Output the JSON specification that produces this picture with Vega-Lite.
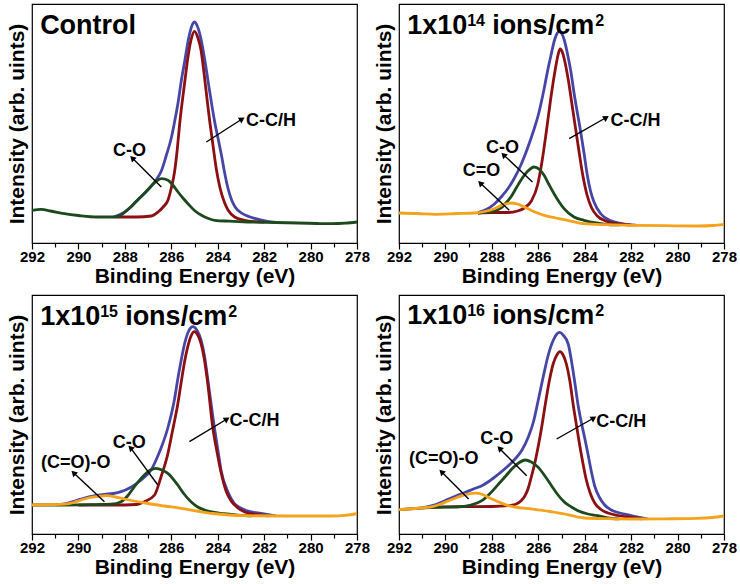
{
"$schema":"https://vega.github.io/schema/vega-lite/v6.json",
"padding":{"left":5,"top":3,"right":0,"bottom":0},
"data":{"values":[
{"p":"a","k":"env","e":288.5,"i":26},{"p":"a","k":"env","e":288.0,"i":31},{"p":"a","k":"env","e":287.7,"i":37},{"p":"a","k":"env","e":287.43,"i":43.5},{"p":"a","k":"env","e":287.14,"i":50},{"p":"a","k":"env","e":286.86,"i":57},{"p":"a","k":"env","e":286.64,"i":63.5},{"p":"a","k":"env","e":286.43,"i":72},{"p":"a","k":"env","e":286.21,"i":88},{"p":"a","k":"env","e":286.0,"i":105},{"p":"a","k":"env","e":285.86,"i":121},{"p":"a","k":"env","e":285.71,"i":140},{"p":"a","k":"env","e":285.55,"i":165},{"p":"a","k":"env","e":285.42,"i":182},{"p":"a","k":"env","e":285.25,"i":205},{"p":"a","k":"env","e":285.1,"i":218},{"p":"a","k":"env","e":285.0,"i":221},{"p":"a","k":"env","e":284.88,"i":217},{"p":"a","k":"env","e":284.72,"i":204},{"p":"a","k":"env","e":284.55,"i":182},{"p":"a","k":"env","e":284.35,"i":152},{"p":"a","k":"env","e":284.13,"i":121},{"p":"a","k":"env","e":283.98,"i":104},{"p":"a","k":"env","e":283.84,"i":88},{"p":"a","k":"env","e":283.7,"i":70},{"p":"a","k":"env","e":283.55,"i":54},{"p":"a","k":"env","e":283.4,"i":43},{"p":"a","k":"env","e":283.25,"i":36},{"p":"a","k":"env","e":282.98,"i":30},{"p":"a","k":"env","e":282.6,"i":26},{"p":"a","k":"env","e":282.12,"i":23},{"p":"a","k":"env","e":281.5,"i":20.6},
{"p":"a","k":"cch","e":288.4,"i":26},{"p":"a","k":"cch","e":287.5,"i":26},{"p":"a","k":"cch","e":286.86,"i":27},{"p":"a","k":"cch","e":286.57,"i":31},{"p":"a","k":"cch","e":286.35,"i":36},{"p":"a","k":"cch","e":286.14,"i":43},{"p":"a","k":"cch","e":286.0,"i":55},{"p":"a","k":"cch","e":285.86,"i":71},{"p":"a","k":"cch","e":285.75,"i":92},{"p":"a","k":"cch","e":285.63,"i":121},{"p":"a","k":"cch","e":285.42,"i":161},{"p":"a","k":"cch","e":285.3,"i":183},{"p":"a","k":"cch","e":285.15,"i":203},{"p":"a","k":"cch","e":285.0,"i":211.7},{"p":"a","k":"cch","e":284.85,"i":205},{"p":"a","k":"cch","e":284.72,"i":193},{"p":"a","k":"cch","e":284.6,"i":172},{"p":"a","k":"cch","e":284.47,"i":146},{"p":"a","k":"cch","e":284.34,"i":121},{"p":"a","k":"cch","e":284.2,"i":97},{"p":"a","k":"cch","e":284.06,"i":74},{"p":"a","k":"cch","e":283.9,"i":55},{"p":"a","k":"cch","e":283.7,"i":40},{"p":"a","k":"cch","e":283.55,"i":32.7},{"p":"a","k":"cch","e":283.27,"i":26},{"p":"a","k":"cch","e":282.84,"i":22.7},{"p":"a","k":"cch","e":282.4,"i":21.3},{"p":"a","k":"cch","e":282.0,"i":20.8},
{"p":"a","k":"co","e":292,"i":32.7},{"p":"a","k":"co","e":291.6,"i":33.7},{"p":"a","k":"co","e":291.2,"i":32},{"p":"a","k":"co","e":290.6,"i":29.3},{"p":"a","k":"co","e":290.0,"i":27.5},{"p":"a","k":"co","e":289.2,"i":26},{"p":"a","k":"co","e":288.44,"i":26},{"p":"a","k":"co","e":288.2,"i":27.5},{"p":"a","k":"co","e":288.0,"i":31},{"p":"a","k":"co","e":287.7,"i":37},{"p":"a","k":"co","e":287.43,"i":43.5},{"p":"a","k":"co","e":287.14,"i":50},{"p":"a","k":"co","e":286.86,"i":57},{"p":"a","k":"co","e":286.64,"i":62},{"p":"a","k":"co","e":286.43,"i":64.3},{"p":"a","k":"co","e":286.14,"i":62.7},{"p":"a","k":"co","e":285.92,"i":57.5},{"p":"a","k":"co","e":285.71,"i":51},{"p":"a","k":"co","e":285.5,"i":45},{"p":"a","k":"co","e":285.28,"i":39.3},{"p":"a","k":"co","e":285.0,"i":32.5},{"p":"a","k":"co","e":284.7,"i":27.7},{"p":"a","k":"co","e":284.4,"i":24.5},{"p":"a","k":"co","e":284.13,"i":22.7},{"p":"a","k":"co","e":283.5,"i":21.8},{"p":"a","k":"co","e":282.69,"i":21},{"p":"a","k":"co","e":281.5,"i":20.5},{"p":"a","k":"co","e":280.53,"i":20},{"p":"a","k":"co","e":279.7,"i":19.5},{"p":"a","k":"co","e":279.1,"i":19.3},{"p":"a","k":"co","e":278.5,"i":19.8},{"p":"a","k":"co","e":278,"i":21},
{"p":"b","k":"coo","e":292,"i":30},{"p":"b","k":"coo","e":291.2,"i":29.5},{"p":"b","k":"coo","e":290.47,"i":28.7},{"p":"b","k":"coo","e":289.5,"i":29.5},{"p":"b","k":"coo","e":288.75,"i":30},{"p":"b","k":"coo","e":288.3,"i":31.5},{"p":"b","k":"coo","e":287.89,"i":34.3},{"p":"b","k":"coo","e":287.5,"i":38.5},{"p":"b","k":"coo","e":287.18,"i":40},{"p":"b","k":"coo","e":286.9,"i":39},{"p":"b","k":"coo","e":286.6,"i":36},{"p":"b","k":"coo","e":286.2,"i":31.5},{"p":"b","k":"coo","e":285.75,"i":27.7},{"p":"b","k":"coo","e":285.25,"i":25},{"p":"b","k":"coo","e":284.75,"i":22.7},{"p":"b","k":"coo","e":284.03,"i":19.3},{"p":"b","k":"coo","e":283.0,"i":18.3},{"p":"b","k":"coo","e":281.88,"i":17.7},{"p":"b","k":"coo","e":280.5,"i":17.3},{"p":"b","k":"coo","e":279.03,"i":17},{"p":"b","k":"coo","e":278.5,"i":17.5},{"p":"b","k":"coo","e":278,"i":18.7},
{"p":"b","k":"co","e":288.6,"i":30},{"p":"b","k":"co","e":288.0,"i":31.5},{"p":"b","k":"co","e":287.6,"i":35},{"p":"b","k":"co","e":287.4,"i":40},{"p":"b","k":"co","e":287.18,"i":46},{"p":"b","k":"co","e":286.95,"i":55},{"p":"b","k":"co","e":286.75,"i":62.7},{"p":"b","k":"co","e":286.46,"i":71.7},{"p":"b","k":"co","e":286.18,"i":76},{"p":"b","k":"co","e":285.95,"i":73.5},{"p":"b","k":"co","e":285.75,"i":67.7},{"p":"b","k":"co","e":285.55,"i":59},{"p":"b","k":"co","e":285.32,"i":49.3},{"p":"b","k":"co","e":285.1,"i":41},{"p":"b","k":"co","e":284.89,"i":34.3},{"p":"b","k":"co","e":284.46,"i":26},{"p":"b","k":"co","e":284.03,"i":22.7},{"p":"b","k":"co","e":283.5,"i":20},{"p":"b","k":"co","e":283.0,"i":18.5},{"p":"b","k":"co","e":282.5,"i":18.1},
{"p":"b","k":"cch","e":288.6,"i":30},{"p":"b","k":"cch","e":288.0,"i":30.5},{"p":"b","k":"cch","e":287.32,"i":30.5},{"p":"b","k":"cch","e":286.89,"i":32},{"p":"b","k":"cch","e":286.6,"i":35},{"p":"b","k":"cch","e":286.3,"i":42},{"p":"b","k":"cch","e":286.03,"i":58},{"p":"b","k":"cch","e":285.85,"i":80},{"p":"b","k":"cch","e":285.65,"i":112},{"p":"b","k":"cch","e":285.46,"i":145},{"p":"b","k":"cch","e":285.25,"i":176},{"p":"b","k":"cch","e":285.15,"i":188},{"p":"b","k":"cch","e":285.06,"i":194},{"p":"b","k":"cch","e":284.95,"i":190},{"p":"b","k":"cch","e":284.88,"i":184},{"p":"b","k":"cch","e":284.7,"i":162},{"p":"b","k":"cch","e":284.5,"i":131},{"p":"b","k":"cch","e":284.3,"i":100},{"p":"b","k":"cch","e":284.1,"i":70},{"p":"b","k":"cch","e":283.9,"i":48},{"p":"b","k":"cch","e":283.7,"i":35},{"p":"b","k":"cch","e":283.46,"i":27},{"p":"b","k":"cch","e":283.03,"i":21.5},{"p":"b","k":"cch","e":282.5,"i":19},{"p":"b","k":"cch","e":282.0,"i":17.9},
{"p":"b","k":"env","e":288.6,"i":30.5},{"p":"b","k":"env","e":288.2,"i":34},{"p":"b","k":"env","e":287.89,"i":39},{"p":"b","k":"env","e":287.6,"i":46},{"p":"b","k":"env","e":287.32,"i":54},{"p":"b","k":"env","e":287.05,"i":64},{"p":"b","k":"env","e":286.75,"i":78},{"p":"b","k":"env","e":286.46,"i":95},{"p":"b","k":"env","e":286.18,"i":114},{"p":"b","k":"env","e":286.0,"i":128},{"p":"b","k":"env","e":285.75,"i":154},{"p":"b","k":"env","e":285.6,"i":172},{"p":"b","k":"env","e":285.46,"i":187},{"p":"b","k":"env","e":285.3,"i":203},{"p":"b","k":"env","e":285.18,"i":210},{"p":"b","k":"env","e":285.1,"i":211.7},{"p":"b","k":"env","e":285.0,"i":210},{"p":"b","k":"env","e":284.88,"i":203},{"p":"b","k":"env","e":284.75,"i":190},{"p":"b","k":"env","e":284.6,"i":172},{"p":"b","k":"env","e":284.46,"i":150},{"p":"b","k":"env","e":284.3,"i":128},{"p":"b","k":"env","e":284.18,"i":112},{"p":"b","k":"env","e":284.03,"i":90},{"p":"b","k":"env","e":283.89,"i":68},{"p":"b","k":"env","e":283.75,"i":52},{"p":"b","k":"env","e":283.6,"i":41},{"p":"b","k":"env","e":283.3,"i":29},{"p":"b","k":"env","e":282.9,"i":22.5},{"p":"b","k":"env","e":282.4,"i":19.5},{"p":"b","k":"env","e":281.8,"i":17.8},
{"p":"c","k":"coo","e":292,"i":29},{"p":"c","k":"coo","e":291.2,"i":29.3},{"p":"c","k":"coo","e":290.6,"i":29.8},{"p":"c","k":"coo","e":290.2,"i":31.5},{"p":"c","k":"coo","e":289.89,"i":34},{"p":"c","k":"coo","e":289.5,"i":36.5},{"p":"c","k":"coo","e":289.17,"i":37.5},{"p":"c","k":"coo","e":288.8,"i":38.3},{"p":"c","k":"coo","e":288.4,"i":37},{"p":"c","k":"coo","e":288.02,"i":35},{"p":"c","k":"coo","e":287.6,"i":33},{"p":"c","k":"coo","e":287.01,"i":30.5},{"p":"c","k":"coo","e":286.3,"i":28},{"p":"c","k":"coo","e":285.58,"i":25.7},{"p":"c","k":"coo","e":284.9,"i":23},{"p":"c","k":"coo","e":284.2,"i":20.5},{"p":"c","k":"coo","e":283.5,"i":19},{"p":"c","k":"coo","e":282.84,"i":18.3},{"p":"c","k":"coo","e":281.0,"i":18},{"p":"c","k":"coo","e":279.11,"i":18},{"p":"c","k":"coo","e":278.5,"i":18.7},{"p":"c","k":"coo","e":278,"i":20.5},
{"p":"c","k":"co","e":292,"i":29},{"p":"c","k":"co","e":290.75,"i":29},{"p":"c","k":"co","e":289.5,"i":29.3},{"p":"c","k":"co","e":288.6,"i":29.8},{"p":"c","k":"co","e":288.16,"i":32.3},{"p":"c","k":"co","e":287.85,"i":39},{"p":"c","k":"co","e":287.59,"i":47.3},{"p":"c","k":"co","e":287.16,"i":59},{"p":"c","k":"co","e":286.9,"i":64},{"p":"c","k":"co","e":286.66,"i":65.7},{"p":"c","k":"co","e":286.4,"i":64},{"p":"c","k":"co","e":286.15,"i":60.7},{"p":"c","k":"co","e":285.72,"i":49},{"p":"c","k":"co","e":285.45,"i":40},{"p":"c","k":"co","e":285.15,"i":32.3},{"p":"c","k":"co","e":284.86,"i":27},{"p":"c","k":"co","e":284.57,"i":24},{"p":"c","k":"co","e":284.14,"i":21.5},{"p":"c","k":"co","e":283.85,"i":20.7},{"p":"c","k":"co","e":283.0,"i":18.7},{"p":"c","k":"co","e":282.5,"i":18.2},
{"p":"c","k":"cch","e":290.0,"i":29},{"p":"c","k":"cch","e":288.5,"i":29},{"p":"c","k":"cch","e":287.5,"i":29.5},{"p":"c","k":"cch","e":287.16,"i":32.3},{"p":"c","k":"cch","e":286.72,"i":39},{"p":"c","k":"cch","e":286.44,"i":57.3},{"p":"c","k":"cch","e":286.15,"i":80},{"p":"c","k":"cch","e":285.94,"i":104},{"p":"c","k":"cch","e":285.72,"i":130},{"p":"c","k":"cch","e":285.58,"i":150.7},{"p":"c","k":"cch","e":285.43,"i":172},{"p":"c","k":"cch","e":285.29,"i":187.3},{"p":"c","k":"cch","e":285.15,"i":198},{"p":"c","k":"cch","e":285.0,"i":202.3},{"p":"c","k":"cch","e":284.86,"i":199},{"p":"c","k":"cch","e":284.72,"i":190.7},{"p":"c","k":"cch","e":284.57,"i":174},{"p":"c","k":"cch","e":284.43,"i":150.7},{"p":"c","k":"cch","e":284.21,"i":106},{"p":"c","k":"cch","e":284.03,"i":82},{"p":"c","k":"cch","e":283.85,"i":61},{"p":"c","k":"cch","e":283.64,"i":43},{"p":"c","k":"cch","e":283.42,"i":33},{"p":"c","k":"cch","e":283.13,"i":26},{"p":"c","k":"cch","e":282.84,"i":22},{"p":"c","k":"cch","e":282.3,"i":19.5},{"p":"c","k":"cch","e":281.8,"i":18.1},
{"p":"c","k":"env","e":291.0,"i":29.3},{"p":"c","k":"env","e":290.6,"i":30},{"p":"c","k":"env","e":290.03,"i":34},{"p":"c","k":"env","e":289.5,"i":37.5},{"p":"c","k":"env","e":288.88,"i":39.7},{"p":"c","k":"env","e":288.5,"i":40.5},{"p":"c","k":"env","e":288.16,"i":42.3},{"p":"c","k":"env","e":287.8,"i":46},{"p":"c","k":"env","e":287.44,"i":51.5},{"p":"c","k":"env","e":287.15,"i":57},{"p":"c","k":"env","e":286.87,"i":64},{"p":"c","k":"env","e":286.58,"i":78},{"p":"c","k":"env","e":286.44,"i":86},{"p":"c","k":"env","e":286.15,"i":106},{"p":"c","k":"env","e":285.86,"i":135},{"p":"c","k":"env","e":285.72,"i":155},{"p":"c","k":"env","e":285.58,"i":173},{"p":"c","k":"env","e":285.43,"i":190},{"p":"c","k":"env","e":285.25,"i":203},{"p":"c","k":"env","e":285.07,"i":207.3},{"p":"c","k":"env","e":284.9,"i":204},{"p":"c","k":"env","e":284.72,"i":194},{"p":"c","k":"env","e":284.57,"i":178},{"p":"c","k":"env","e":284.43,"i":155},{"p":"c","k":"env","e":284.14,"i":106},{"p":"c","k":"env","e":283.98,"i":82},{"p":"c","k":"env","e":283.85,"i":63},{"p":"c","k":"env","e":283.56,"i":42},{"p":"c","k":"env","e":283.3,"i":31},{"p":"c","k":"env","e":282.99,"i":25.7},{"p":"c","k":"env","e":282.6,"i":22.3},{"p":"c","k":"env","e":282.13,"i":20.5},{"p":"c","k":"env","e":281.5,"i":18.1},
{"p":"d","k":"coo","e":292,"i":24.3},{"p":"d","k":"coo","e":291.3,"i":25.5},{"p":"d","k":"coo","e":290.57,"i":27.3},{"p":"d","k":"coo","e":290.2,"i":30},{"p":"d","k":"coo","e":289.86,"i":33.3},{"p":"d","k":"coo","e":289.5,"i":36.5},{"p":"d","k":"coo","e":289.14,"i":39.3},{"p":"d","k":"coo","e":288.71,"i":40.8},{"p":"d","k":"coo","e":288.4,"i":39.5},{"p":"d","k":"coo","e":288.14,"i":36.6},{"p":"d","k":"coo","e":287.8,"i":33},{"p":"d","k":"coo","e":287.43,"i":29.3},{"p":"d","k":"coo","e":287.0,"i":27},{"p":"d","k":"coo","e":286.29,"i":25},{"p":"d","k":"coo","e":285.5,"i":22.5},{"p":"d","k":"coo","e":284.86,"i":20},{"p":"d","k":"coo","e":284.4,"i":17.5},{"p":"d","k":"coo","e":284.0,"i":16},{"p":"d","k":"coo","e":283.0,"i":15.3},{"p":"d","k":"coo","e":282.0,"i":15},{"p":"d","k":"coo","e":280.5,"i":15.2},{"p":"d","k":"coo","e":279.14,"i":15.6},{"p":"d","k":"coo","e":278.5,"i":16.5},{"p":"d","k":"coo","e":278,"i":18},
{"p":"d","k":"co","e":292,"i":24.3},{"p":"d","k":"co","e":291.0,"i":26},{"p":"d","k":"co","e":290.57,"i":26.6},{"p":"d","k":"co","e":289.5,"i":27},{"p":"d","k":"co","e":288.9,"i":29},{"p":"d","k":"co","e":288.43,"i":33.3},{"p":"d","k":"co","e":288.1,"i":40},{"p":"d","k":"co","e":287.71,"i":50},{"p":"d","k":"co","e":287.4,"i":58},{"p":"d","k":"co","e":287.14,"i":65},{"p":"d","k":"co","e":286.85,"i":71},{"p":"d","k":"co","e":286.57,"i":74},{"p":"d","k":"co","e":286.3,"i":72},{"p":"d","k":"co","e":286.0,"i":66.6},{"p":"d","k":"co","e":285.7,"i":57.5},{"p":"d","k":"co","e":285.43,"i":48.3},{"p":"d","k":"co","e":285.15,"i":39},{"p":"d","k":"co","e":284.86,"i":31.6},{"p":"d","k":"co","e":284.57,"i":27},{"p":"d","k":"co","e":284.29,"i":23.3},{"p":"d","k":"co","e":283.86,"i":20},{"p":"d","k":"co","e":283.43,"i":18.3},{"p":"d","k":"co","e":283.0,"i":16},{"p":"d","k":"co","e":282.5,"i":15.2},
{"p":"d","k":"cch","e":290.7,"i":26.6},{"p":"d","k":"cch","e":289.5,"i":27.3},{"p":"d","k":"cch","e":288.0,"i":27.5},{"p":"d","k":"cch","e":287.3,"i":28.3},{"p":"d","k":"cch","e":287.0,"i":29.5},{"p":"d","k":"cch","e":286.75,"i":33},{"p":"d","k":"cch","e":286.57,"i":38.3},{"p":"d","k":"cch","e":286.43,"i":46},{"p":"d","k":"cch","e":286.29,"i":58},{"p":"d","k":"cch","e":286.14,"i":72},{"p":"d","k":"cch","e":286.0,"i":88},{"p":"d","k":"cch","e":285.86,"i":106},{"p":"d","k":"cch","e":285.71,"i":128},{"p":"d","k":"cch","e":285.55,"i":150},{"p":"d","k":"cch","e":285.36,"i":170},{"p":"d","k":"cch","e":285.2,"i":179},{"p":"d","k":"cch","e":285.07,"i":182.3},{"p":"d","k":"cch","e":284.93,"i":179},{"p":"d","k":"cch","e":284.79,"i":170},{"p":"d","k":"cch","e":284.64,"i":153},{"p":"d","k":"cch","e":284.5,"i":130},{"p":"d","k":"cch","e":284.35,"i":108},{"p":"d","k":"cch","e":284.21,"i":88},{"p":"d","k":"cch","e":284.07,"i":70},{"p":"d","k":"cch","e":283.93,"i":54},{"p":"d","k":"cch","e":283.75,"i":40},{"p":"d","k":"cch","e":283.57,"i":31},{"p":"d","k":"cch","e":283.3,"i":24.5},{"p":"d","k":"cch","e":283.0,"i":21},{"p":"d","k":"cch","e":282.57,"i":18.5},{"p":"d","k":"cch","e":282.0,"i":16.5},{"p":"d","k":"cch","e":281.5,"i":15.1},
{"p":"d","k":"env","e":291.0,"i":26},{"p":"d","k":"env","e":290.57,"i":28.3},{"p":"d","k":"env","e":290.2,"i":31.5},{"p":"d","k":"env","e":289.86,"i":35},{"p":"d","k":"env","e":289.5,"i":38.5},{"p":"d","k":"env","e":289.14,"i":41.6},{"p":"d","k":"env","e":288.8,"i":45},{"p":"d","k":"env","e":288.43,"i":48.3},{"p":"d","k":"env","e":288.1,"i":53},{"p":"d","k":"env","e":287.71,"i":60},{"p":"d","k":"env","e":287.35,"i":67},{"p":"d","k":"env","e":287.0,"i":75},{"p":"d","k":"env","e":286.7,"i":84},{"p":"d","k":"env","e":286.43,"i":97},{"p":"d","k":"env","e":286.21,"i":112},{"p":"d","k":"env","e":286.0,"i":134},{"p":"d","k":"env","e":285.78,"i":158},{"p":"d","k":"env","e":285.57,"i":179},{"p":"d","k":"env","e":285.35,"i":194},{"p":"d","k":"env","e":285.2,"i":200},{"p":"d","k":"env","e":285.07,"i":201.6},{"p":"d","k":"env","e":284.93,"i":199},{"p":"d","k":"env","e":284.71,"i":190},{"p":"d","k":"env","e":284.57,"i":173},{"p":"d","k":"env","e":284.43,"i":152},{"p":"d","k":"env","e":284.28,"i":128},{"p":"d","k":"env","e":284.14,"i":111},{"p":"d","k":"env","e":284.0,"i":96},{"p":"d","k":"env","e":283.86,"i":80},{"p":"d","k":"env","e":283.71,"i":62},{"p":"d","k":"env","e":283.57,"i":48},{"p":"d","k":"env","e":283.35,"i":36},{"p":"d","k":"env","e":283.14,"i":29},{"p":"d","k":"env","e":282.86,"i":24},{"p":"d","k":"env","e":282.57,"i":21.5},{"p":"d","k":"env","e":282.0,"i":18.5},{"p":"d","k":"env","e":281.3,"i":15.1},
{"p":"a","k":"note","label":"C-C/H","e":282.78,"i":122},{"p":"a","k":"note","label":"C-O","e":288.51,"i":92},
{"p":"b","k":"note","label":"C-C/H","e":282.89,"i":122},{"p":"b","k":"note","label":"C-O","e":288.25,"i":95},{"p":"b","k":"note","label":"C=O","e":289.25,"i":72},
{"p":"c","k":"note","label":"C-C/H","e":283.49,"i":113},{"p":"c","k":"note","label":"C-O","e":288.52,"i":91.5},{"p":"c","k":"note","label":"(C=O)-O","e":291.61,"i":71},
{"p":"d","k":"note","label":"C-C/H","e":283.5,"i":112},{"p":"d","k":"note","label":"C-O","e":288.5,"i":95},{"p":"d","k":"note","label":"(C=O)-O","e":291.57,"i":75},
{"p":"a","k":"arrow","label":"C-C/H","e":282.95,"i":124,"e2":284.49,"i2":101},{"p":"a","k":"arrow","label":"C-O","e":287.68,"i":85,"e2":286.43,"i2":56},
{"p":"b","k":"arrow","label":"C-C/H","e":283.07,"i":125.5,"e2":284.67,"i2":104.3},{"p":"b","k":"arrow","label":"C-O","e":287.5,"i":88.3,"e2":286.25,"i2":61},{"p":"b","k":"arrow","label":"C=O","e":288.5,"i":60,"e2":287.25,"i2":32.7},
{"p":"c","k":"arrow","label":"C-C/H","e":283.6,"i":115,"e2":285.22,"i2":92.3},{"p":"c","k":"arrow","label":"C-O","e":287.76,"i":86.3,"e2":286.58,"i2":49},{"p":"c","k":"arrow","label":"(C=O)-O","e":290.21,"i":61.3,"e2":288.88,"i2":32.3},
{"p":"d","k":"arrow","label":"C-C/H","e":283.61,"i":116,"e2":285.21,"i2":95},{"p":"d","k":"arrow","label":"C-O","e":287.67,"i":85.6,"e2":286.5,"i2":58.3},{"p":"d","k":"arrow","label":"(C=O)-O","e":290.17,"i":62.3,"e2":289.0,"i2":35},
{"p":"a","k":"title","base":"Control","sup":"","unit":"","sup2":"","e":291.65,"i":209},
{"p":"b","k":"title","base":"1x10","sup":"14","unit":"ions/cm","sup2":"2","e":291.65,"i":209.5},
{"p":"c","k":"title","base":"1x10","sup":"15","unit":"ions/cm","sup2":"2","e":291.65,"i":209},
{"p":"d","k":"title","base":"1x10","sup":"16","unit":"ions/cm","sup2":"2","e":291.65,"i":210}
]},
"columns":2,
"spacing":{"row":52,"column":42},
"bounds":"flush",
"concat":[
{"transform":[{"filter":"datum.p==='a'"}],"width":325,"height":239,
"encoding":{"x":{"field":"e","type":"quantitative","scale":{"domain":[278,292],"reverse":true,"nice":false,"zero":false},"axis":{"values":[278,279,280,281,282,283,284,285,286,287,288,289,290,291,292],"labelExpr":"datum.value % 2 === 0 ? datum.label : ''","tickSize":{"condition":{"test":"datum.value % 2 === 0","value":6},"value":4},"labelFlush":false,"labelOverlap":false,"grid":false,"domain":false,"title":"Binding Energy (eV)","titleFontSize":21,"titlePadding":1,"labelPadding":0,"labelFontSize":15}},
"y":{"field":"i","type":"quantitative","scale":{"domain":[0,239],"nice":false,"zero":false},"axis":{"title":"Intensity (arb. uints)","labels":false,"ticks":false,"grid":false,"domain":false,"titleFontSize":21,"titlePadding":5}}},
"layer":[
{"transform":[{"filter":"datum.k==='env'"}],"mark":{"type":"line","color":"#4646a6","strokeWidth":2.8,"interpolate":"monotone"}},
{"transform":[{"filter":"datum.k==='cch'"}],"mark":{"type":"line","color":"#8c0f12","strokeWidth":2.8,"interpolate":"monotone"}},
{"transform":[{"filter":"datum.k==='co'"}],"mark":{"type":"line","color":"#1d4a1d","strokeWidth":2.8,"interpolate":"monotone"}},
{"transform":[{"filter":"datum.k==='coo'"}],"mark":{"type":"line","color":"#f5a31c","strokeWidth":2.8,"interpolate":"monotone"}},
{"transform":[{"filter":"datum.k==='arrow'"}],"mark":{"type":"rule","color":"#000","strokeWidth":1.4},"encoding":{"x2":{"field":"e2"},"y2":{"field":"i2"}}},
{"transform":[{"filter":"datum.k==='arrow' && datum.label==='C-C/H'"}],"mark":{"type":"point","shape":"triangle-up","filled":true,"color":"#000","opacity":1,"size":45,"angle":58}},
{"transform":[{"filter":"datum.k==='arrow' && datum.label!=='C-C/H'"}],"mark":{"type":"point","shape":"triangle-up","filled":true,"color":"#000","opacity":1,"size":45,"angle":315}},
{"transform":[{"filter":"datum.k==='note'"}],"mark":{"type":"text","align":"left","baseline":"middle","fontSize":18,"fontWeight":"bold","color":"#000"},"encoding":{"text":{"field":"label"}}},
{"transform":[{"filter":"datum.k==='title'"}],"mark":{"type":"text","align":"left","baseline":"alphabetic","fontSize":27,"fontWeight":"bold","color":"#000"},"encoding":{"text":{"field":"base"}}}
]},
{"transform":[{"filter":"datum.p==='b'"}],"width":325,"height":239,
"encoding":{"x":{"field":"e","type":"quantitative","scale":{"domain":[278,292],"reverse":true,"nice":false,"zero":false},"axis":{"values":[278,279,280,281,282,283,284,285,286,287,288,289,290,291,292],"labelExpr":"datum.value % 2 === 0 ? datum.label : ''","tickSize":{"condition":{"test":"datum.value % 2 === 0","value":6},"value":4},"labelFlush":false,"labelOverlap":false,"grid":false,"domain":false,"title":"Binding Energy (eV)","titleFontSize":21,"titlePadding":1,"labelPadding":0,"labelFontSize":15}},
"y":{"field":"i","type":"quantitative","scale":{"domain":[0,239],"nice":false,"zero":false},"axis":{"title":"Intensity (arb. uints)","labels":false,"ticks":false,"grid":false,"domain":false,"titleFontSize":21,"titlePadding":5}}},
"layer":[
{"transform":[{"filter":"datum.k==='env'"}],"mark":{"type":"line","color":"#4646a6","strokeWidth":2.8,"interpolate":"monotone"}},
{"transform":[{"filter":"datum.k==='cch'"}],"mark":{"type":"line","color":"#8c0f12","strokeWidth":2.8,"interpolate":"monotone"}},
{"transform":[{"filter":"datum.k==='co'"}],"mark":{"type":"line","color":"#1d4a1d","strokeWidth":2.8,"interpolate":"monotone"}},
{"transform":[{"filter":"datum.k==='coo'"}],"mark":{"type":"line","color":"#f5a31c","strokeWidth":2.8,"interpolate":"monotone"}},
{"transform":[{"filter":"datum.k==='arrow'"}],"mark":{"type":"rule","color":"#000","strokeWidth":1.4},"encoding":{"x2":{"field":"e2"},"y2":{"field":"i2"}}},
{"transform":[{"filter":"datum.k==='arrow' && datum.label==='C-C/H'"}],"mark":{"type":"point","shape":"triangle-up","filled":true,"color":"#000","opacity":1,"size":45,"angle":58}},
{"transform":[{"filter":"datum.k==='arrow' && datum.label!=='C-C/H'"}],"mark":{"type":"point","shape":"triangle-up","filled":true,"color":"#000","opacity":1,"size":45,"angle":315}},
{"transform":[{"filter":"datum.k==='note'"}],"mark":{"type":"text","align":"left","baseline":"middle","fontSize":18,"fontWeight":"bold","color":"#000"},"encoding":{"text":{"field":"label"}}},
{"transform":[{"filter":"datum.k==='title'"}],"mark":{"type":"text","align":"left","baseline":"alphabetic","fontSize":27,"fontWeight":"bold","color":"#000"},"encoding":{"text":{"field":"base"}}},
{"transform":[{"filter":"datum.k==='title'"}],"mark":{"type":"text","align":"left","baseline":"alphabetic","fontSize":16,"fontWeight":"bold","color":"#000","dx":60,"dy":-8},"encoding":{"text":{"field":"sup"}}},
{"transform":[{"filter":"datum.k==='title'"}],"mark":{"type":"text","align":"left","baseline":"alphabetic","fontSize":27,"fontWeight":"bold","color":"#000","dx":85},"encoding":{"text":{"field":"unit"}}},
{"transform":[{"filter":"datum.k==='title'"}],"mark":{"type":"text","align":"left","baseline":"alphabetic","fontSize":16,"fontWeight":"bold","color":"#000","dx":188,"dy":-8},"encoding":{"text":{"field":"sup2"}}}
]},
{"transform":[{"filter":"datum.p==='c'"}],"width":325,"height":239,
"encoding":{"x":{"field":"e","type":"quantitative","scale":{"domain":[278,292],"reverse":true,"nice":false,"zero":false},"axis":{"values":[278,279,280,281,282,283,284,285,286,287,288,289,290,291,292],"labelExpr":"datum.value % 2 === 0 ? datum.label : ''","tickSize":{"condition":{"test":"datum.value % 2 === 0","value":6},"value":4},"labelFlush":false,"labelOverlap":false,"grid":false,"domain":false,"title":"Binding Energy (eV)","titleFontSize":21,"titlePadding":1,"labelPadding":0,"labelFontSize":15}},
"y":{"field":"i","type":"quantitative","scale":{"domain":[0,239],"nice":false,"zero":false},"axis":{"title":"Intensity (arb. uints)","labels":false,"ticks":false,"grid":false,"domain":false,"titleFontSize":21,"titlePadding":5}}},
"layer":[
{"transform":[{"filter":"datum.k==='env'"}],"mark":{"type":"line","color":"#4646a6","strokeWidth":2.8,"interpolate":"monotone"}},
{"transform":[{"filter":"datum.k==='cch'"}],"mark":{"type":"line","color":"#8c0f12","strokeWidth":2.8,"interpolate":"monotone"}},
{"transform":[{"filter":"datum.k==='co'"}],"mark":{"type":"line","color":"#1d4a1d","strokeWidth":2.8,"interpolate":"monotone"}},
{"transform":[{"filter":"datum.k==='coo'"}],"mark":{"type":"line","color":"#f5a31c","strokeWidth":2.8,"interpolate":"monotone"}},
{"transform":[{"filter":"datum.k==='arrow'"}],"mark":{"type":"rule","color":"#000","strokeWidth":1.4},"encoding":{"x2":{"field":"e2"},"y2":{"field":"i2"}}},
{"transform":[{"filter":"datum.k==='arrow' && datum.label==='C-C/H'"}],"mark":{"type":"point","shape":"triangle-up","filled":true,"color":"#000","opacity":1,"size":45,"angle":58}},
{"transform":[{"filter":"datum.k==='arrow' && datum.label!=='C-C/H'"}],"mark":{"type":"point","shape":"triangle-up","filled":true,"color":"#000","opacity":1,"size":45,"angle":315}},
{"transform":[{"filter":"datum.k==='note'"}],"mark":{"type":"text","align":"left","baseline":"middle","fontSize":18,"fontWeight":"bold","color":"#000"},"encoding":{"text":{"field":"label"}}},
{"transform":[{"filter":"datum.k==='title'"}],"mark":{"type":"text","align":"left","baseline":"alphabetic","fontSize":27,"fontWeight":"bold","color":"#000"},"encoding":{"text":{"field":"base"}}},
{"transform":[{"filter":"datum.k==='title'"}],"mark":{"type":"text","align":"left","baseline":"alphabetic","fontSize":16,"fontWeight":"bold","color":"#000","dx":60,"dy":-8},"encoding":{"text":{"field":"sup"}}},
{"transform":[{"filter":"datum.k==='title'"}],"mark":{"type":"text","align":"left","baseline":"alphabetic","fontSize":27,"fontWeight":"bold","color":"#000","dx":85},"encoding":{"text":{"field":"unit"}}},
{"transform":[{"filter":"datum.k==='title'"}],"mark":{"type":"text","align":"left","baseline":"alphabetic","fontSize":16,"fontWeight":"bold","color":"#000","dx":188,"dy":-8},"encoding":{"text":{"field":"sup2"}}}
]},
{"transform":[{"filter":"datum.p==='d'"}],"width":325,"height":239,
"encoding":{"x":{"field":"e","type":"quantitative","scale":{"domain":[278,292],"reverse":true,"nice":false,"zero":false},"axis":{"values":[278,279,280,281,282,283,284,285,286,287,288,289,290,291,292],"labelExpr":"datum.value % 2 === 0 ? datum.label : ''","tickSize":{"condition":{"test":"datum.value % 2 === 0","value":6},"value":4},"labelFlush":false,"labelOverlap":false,"grid":false,"domain":false,"title":"Binding Energy (eV)","titleFontSize":21,"titlePadding":1,"labelPadding":0,"labelFontSize":15}},
"y":{"field":"i","type":"quantitative","scale":{"domain":[0,239],"nice":false,"zero":false},"axis":{"title":"Intensity (arb. uints)","labels":false,"ticks":false,"grid":false,"domain":false,"titleFontSize":21,"titlePadding":5}}},
"layer":[
{"transform":[{"filter":"datum.k==='env'"}],"mark":{"type":"line","color":"#4646a6","strokeWidth":2.8,"interpolate":"monotone"}},
{"transform":[{"filter":"datum.k==='cch'"}],"mark":{"type":"line","color":"#8c0f12","strokeWidth":2.8,"interpolate":"monotone"}},
{"transform":[{"filter":"datum.k==='co'"}],"mark":{"type":"line","color":"#1d4a1d","strokeWidth":2.8,"interpolate":"monotone"}},
{"transform":[{"filter":"datum.k==='coo'"}],"mark":{"type":"line","color":"#f5a31c","strokeWidth":2.8,"interpolate":"monotone"}},
{"transform":[{"filter":"datum.k==='arrow'"}],"mark":{"type":"rule","color":"#000","strokeWidth":1.4},"encoding":{"x2":{"field":"e2"},"y2":{"field":"i2"}}},
{"transform":[{"filter":"datum.k==='arrow' && datum.label==='C-C/H'"}],"mark":{"type":"point","shape":"triangle-up","filled":true,"color":"#000","opacity":1,"size":45,"angle":58}},
{"transform":[{"filter":"datum.k==='arrow' && datum.label!=='C-C/H'"}],"mark":{"type":"point","shape":"triangle-up","filled":true,"color":"#000","opacity":1,"size":45,"angle":315}},
{"transform":[{"filter":"datum.k==='note'"}],"mark":{"type":"text","align":"left","baseline":"middle","fontSize":18,"fontWeight":"bold","color":"#000"},"encoding":{"text":{"field":"label"}}},
{"transform":[{"filter":"datum.k==='title'"}],"mark":{"type":"text","align":"left","baseline":"alphabetic","fontSize":27,"fontWeight":"bold","color":"#000"},"encoding":{"text":{"field":"base"}}},
{"transform":[{"filter":"datum.k==='title'"}],"mark":{"type":"text","align":"left","baseline":"alphabetic","fontSize":16,"fontWeight":"bold","color":"#000","dx":60,"dy":-8},"encoding":{"text":{"field":"sup"}}},
{"transform":[{"filter":"datum.k==='title'"}],"mark":{"type":"text","align":"left","baseline":"alphabetic","fontSize":27,"fontWeight":"bold","color":"#000","dx":85},"encoding":{"text":{"field":"unit"}}},
{"transform":[{"filter":"datum.k==='title'"}],"mark":{"type":"text","align":"left","baseline":"alphabetic","fontSize":16,"fontWeight":"bold","color":"#000","dx":188,"dy":-8},"encoding":{"text":{"field":"sup2"}}}
]}
],
"config":{
"font":"Liberation Sans",
"view":{"stroke":"#000","strokeWidth":1.2},
"axis":{"labelFont":"Liberation Sans","labelFontWeight":"bold","labelColor":"#000","titleFont":"Liberation Sans","titleFontWeight":"bold","titleColor":"#000","domainColor":"#000","tickColor":"#000","tickWidth":1.2},
"text":{"font":"Liberation Sans"}
}
}
